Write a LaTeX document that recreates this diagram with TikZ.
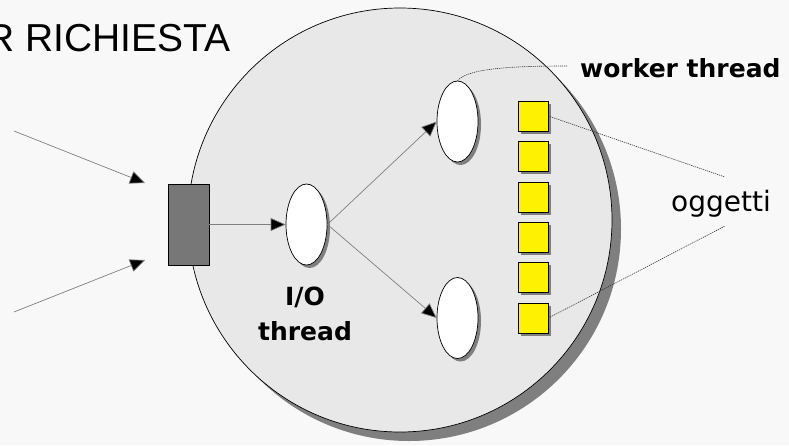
\documentclass[tikz,border=0pt]{standalone}
\usepackage{fontspec}
\setmainfont{Liberation Sans}
\newfontfamily\labelfont{DejaVu Sans}
\usetikzlibrary{arrows.meta,shapes.geometric,shadows}
\definecolor{bgcol}{HTML}{F8F8F8}
\definecolor{diskcol}{HTML}{E8E8E8}
\definecolor{shadecol}{HTML}{7F7F7F}
\definecolor{portcol}{HTML}{777777}
\begin{document}
\begin{tikzpicture}[x=1pt,y=-1pt,
  flow/.style={draw=shadecol,line width=0.7pt,-{Triangle[length=15pt,width=13pt,fill=black]}},
  thr/.style={ellipse,draw=black,line width=0.7pt,fill=white,minimum width=41pt,minimum height=81pt,inner sep=0pt,
    drop shadow={shadow xshift=3pt,shadow yshift=-3pt,fill=shadecol,opacity=1}},
  obj/.style={rectangle,draw=black,line width=0.7pt,fill=yellow,minimum size=30pt,inner sep=0pt,
    drop shadow={shadow xshift=3pt,shadow yshift=-3pt,fill=shadecol,opacity=1}},
  note/.style={draw=black!80,line width=0.6pt,dash pattern=on 1.2pt off 0.9pt},
  bold/.style={font=\labelfont\bfseries\fontsize{25}{35}\selectfont,align=center},
]
% canvas
\fill[bgcol] (0,0) rectangle (789,445);
\useasboundingbox (0,0) rectangle (789,445);

% title (left part runs off the page)
\node[anchor=east,font=\fontsize{39}{44}\selectfont,inner sep=0pt] (title) at (231,38) {R RICHIESTA};

% process disk with its shadow
\fill[shadecol] (409,229) circle[radius=212];
\node[circle,draw=black,line width=0.7pt,fill=diskcol,minimum size=424pt,inner sep=0pt] (disk) at (400,220) {};

% entry port
\node[rectangle,draw=black,line width=0.6pt,fill=portcol,minimum width=41pt,minimum height=81pt,inner sep=0pt] (port) at (188.5,224.5) {};

% incoming requests
\coordinate (in1) at (14,131);
\coordinate (in1end) at (145,183);
\coordinate (in2) at (14,312);
\coordinate (in2end) at (145,260);
\draw[flow] (in1) -- (in1end);
\draw[flow] (in2) -- (in2end);

% threads
\node[thr] (io) at (306.5,224.5) {};
\node[thr] (w1) at (457.5,121.5) {};
\node[thr] (w2) at (457.5,318) {};

\draw[flow] (port.east) -- (io.west);
\draw[flow] (io.east) -- (w1.west);
\draw[flow] (io.east) -- (w2.west);

% objects
\foreach \i/\yy in {1/116,2/156,3/197,4/237,5/277,6/318}
  \node[obj] (o\i) at (533,\yy) {};

% labels
\node[bold,anchor=west,inner sep=0pt] (wlab) at (580,68) {worker thread};
\node[font=\labelfont\fontsize{28}{30}\selectfont,anchor=west,inner sep=0pt] (olab) at (671,204) {oggetti};
\node[bold] (iolab) at (305,314) {I/O\\thread};

% callouts
\coordinate (wtip) at (567,66);
\coordinate (otop) at (725,177);
\coordinate (obot) at (725,226);
\draw[note] (w1.north) .. controls (468,68) and (515,66) .. (wtip);
\draw[note] (o1.east) -- (otop);
\draw[note] (o6.east) -- (obot);
\end{tikzpicture}
\end{document}
